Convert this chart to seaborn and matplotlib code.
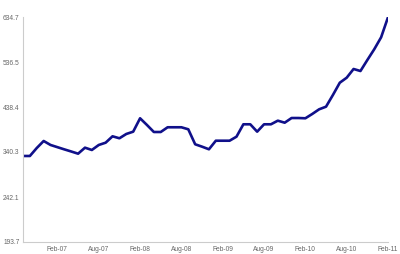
import matplotlib
matplotlib.use("Agg")
import matplotlib.pyplot as plt
import seaborn as sns
import pandas as pd

# Monthly values, Sep-06 .. Feb-11 (index 0..53)
months = list(range(54))
values = [331.6, 331.6, 349.0, 364.3, 355.6, 350.8, 346.0, 341.4, 336.6, 349.7,
          344.7, 355.6, 360.6, 374.5, 370.2, 379.6, 384.6, 413.8, 399.2, 383.9,
          383.9, 394.2, 394.2, 394.2, 389.8, 357.1, 351.9, 346.2, 364.9, 364.9,
          364.9, 373.7, 400.7, 400.7, 384.6, 400.7, 400.7, 408.6, 404.2, 414.4,
          414.4, 413.8, 423.2, 433.4, 439.1, 464.6, 491.4, 502.3, 521.3, 516.9,
          540.9, 564.3, 590.4, 634.1]
x_tick_pos = [5, 11, 17, 23, 29, 35, 41, 47, 53]
x_tick_labels = ["Feb-07", "Aug-07", "Feb-08", "Aug-08", "Feb-09",
                 "Aug-09", "Feb-10", "Aug-10", "Feb-11"]
y_tick_pos = [144.0, 242.1, 340.3, 438.4, 536.5, 634.7]
y_tick_labels = ["193.7", "242.1", "340.3", "438.4", "536.5", "634.7"]

df = pd.DataFrame({"month": months, "value": values})

sns.set_style("white")
plt.rcParams['font.family'] = ['Liberation Sans', 'DejaVu Sans']

fig = plt.figure(figsize=(4.0, 2.54), dpi=100)
ax = fig.add_axes([23/400, 12/254, 365/400, 225/254])
sns.lineplot(data=df, x="month", y="value", ax=ax, color="#10108a", linewidth=1.9)

ax.set_xlim(0, 53)
ax.set_ylim(144.0, 634.7)
ax.set_xticks(x_tick_pos)
ax.set_xticklabels(x_tick_labels)
ax.set_yticks(y_tick_pos)
ax.set_yticklabels(y_tick_labels)
ax.set_xlabel("")
ax.set_ylabel("")
for s in ["top", "right"]:
    ax.spines[s].set_visible(False)
for s in ["left", "bottom"]:
    ax.spines[s].set_color("#cccccc")
    ax.spines[s].set_linewidth(0.8)
ax.tick_params(axis="y", length=2, width=0.6, color="#999999", pad=0.5,
               labelsize=4.8, labelcolor="#666666")
ax.tick_params(axis="x", length=0, pad=3, labelsize=4.8, labelcolor="#666666")
ax.grid(False)

fig.savefig("out.png", dpi=100)
